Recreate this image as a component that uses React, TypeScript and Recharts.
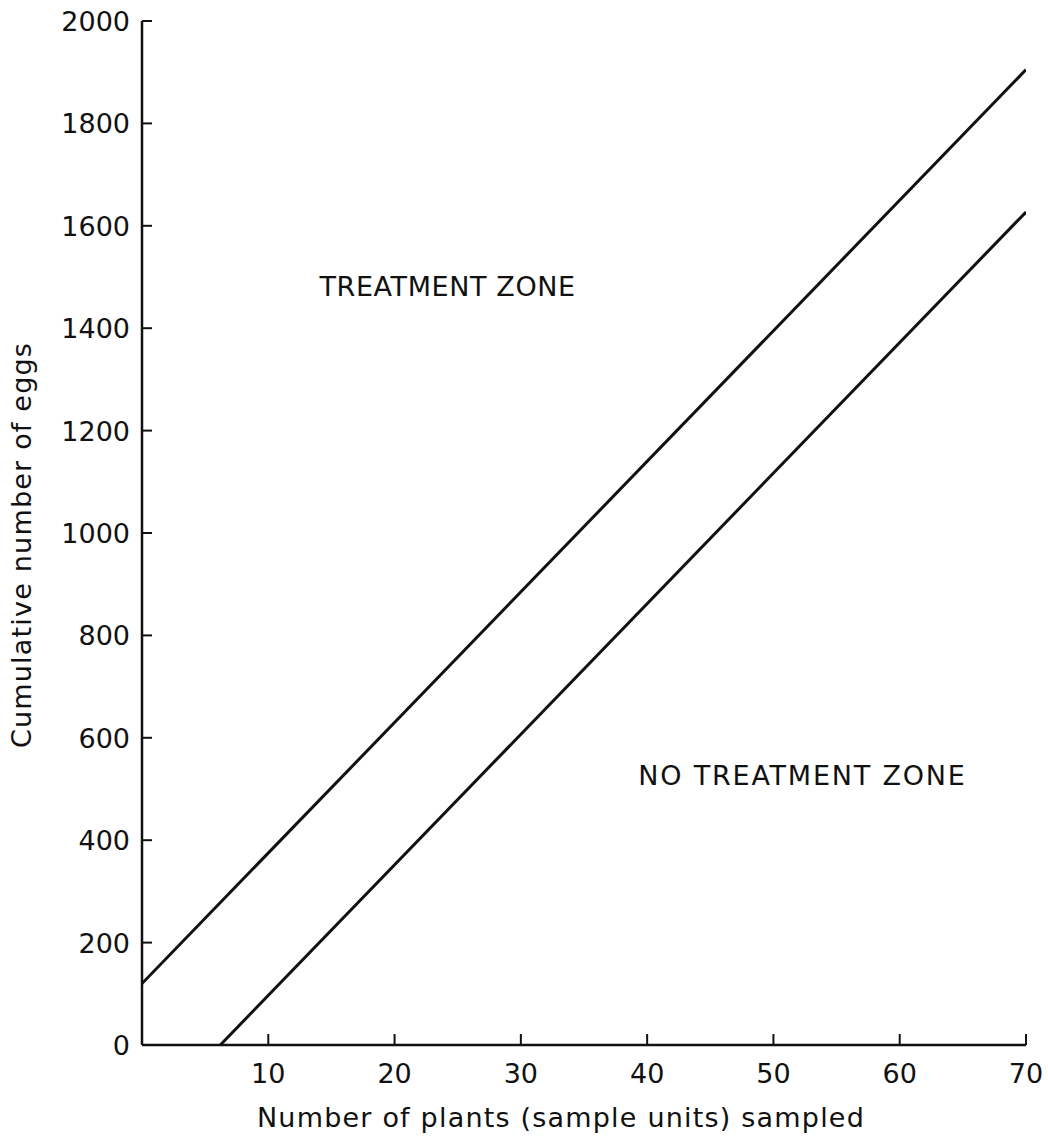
import React from "react";
import {
  LineChart,
  Line,
  XAxis,
  YAxis,
  ReferenceDot,
} from "recharts";

// Decision lines (cumulative eggs vs plants sampled)
const upperLine = [
  { x: 0, y: 120 },
  { x: 70, y: 1905 },
];
const lowerLine = [
  { x: 6.2, y: 0 },
  { x: 70, y: 1627 },
];

const xTicks = [10, 20, 30, 40, 50, 60, 70];
const yTicks = [0, 200, 400, 600, 800, 1000, 1200, 1400, 1600, 1800, 2000];

const zoneNames = ["TREATMENT ZONE", "NO TREATMENT ZONE"];
const zoneX = [24.2, 52.3];
const zoneY = [1482, 527];

const FONT = "DejaVu Sans";
const INK = "#111";

const YTick = ({ x, y, payload }: any) => (
  <text
    x={x}
    y={y}
    dy={10}
    textAnchor="end"
    fontFamily={FONT}
    fontSize={27}
    fill={INK}
  >
    {payload.value}
  </text>
);

const XTick = ({ x, y, payload }: any) => (
  <text
    x={x}
    y={y + 38}
    textAnchor="middle"
    fontFamily={FONT}
    fontSize={27}
    fill={INK}
  >
    {payload.value}
  </text>
);

export default function App() {
  return (
    <div style={{ position: "absolute", left: 0, top: 0, background: "#fff" }}>
      <LineChart
        width={1048}
        height={1137}
        margin={{ top: 21, right: 22, bottom: 0, left: 0 }}
      >
        <XAxis
          type="number"
          dataKey="x"
          domain={[0, 70]}
          ticks={xTicks}
          tick={<XTick />}
          tickLine={{ stroke: INK, strokeWidth: 2 }}
          tickSize={-11}
          tickMargin={11}
          height={92}
          axisLine={{ stroke: INK, strokeWidth: 2.5 }}
          allowDataOverflow
          label={{
            content: ({ viewBox }: any) => (
              <text
                x={viewBox.x + viewBox.width / 2 - 23}
                y={viewBox.y + 82}
                textAnchor="middle"
                fontFamily={FONT}
                fontSize={27}
                letterSpacing={1.2}
                fill={INK}
              >
                Number of plants (sample units) sampled
              </text>
            ),
          }}
        />
        <YAxis
          type="number"
          dataKey="y"
          domain={[0, 2000]}
          ticks={yTicks}
          tick={<YTick />}
          tickLine={{ stroke: INK, strokeWidth: 2 }}
          tickSize={-10}
          tickMargin={22}
          width={142}
          axisLine={{ stroke: INK, strokeWidth: 2.5 }}
          allowDataOverflow
          label={{
            content: () => (
              <text
                x={21}
                y={545}
                transform="rotate(-90 21 545)"
                textAnchor="middle"
                dominantBaseline="central"
                fontFamily={FONT}
                fontSize={27}
                letterSpacing={1.2}
                fill={INK}
              >
                Cumulative number of eggs
              </text>
            ),
          }}
        />
        <Line
          data={upperLine}
          dataKey="y"
          type="linear"
          stroke={INK}
          strokeWidth={3}
          dot={false}
          activeDot={false}
          isAnimationActive={false}
        />
        <Line
          data={lowerLine}
          dataKey="y"
          type="linear"
          stroke={INK}
          strokeWidth={3}
          dot={false}
          activeDot={false}
          isAnimationActive={false}
        />
        {zoneNames.map((name, i) => (
          <ReferenceDot
            key={name}
            x={zoneX[i]}
            y={zoneY[i]}
            r={1}
            fill="none"
            stroke="none"
            label={{
              value: name,
              position: "center",
              fontFamily: FONT,
              fontSize: 27,
              letterSpacing: i === 0 ? 0.6 : 1.8,
              fill: INK,
            }}
          />
        ))}
      </LineChart>
    </div>
  );
}
